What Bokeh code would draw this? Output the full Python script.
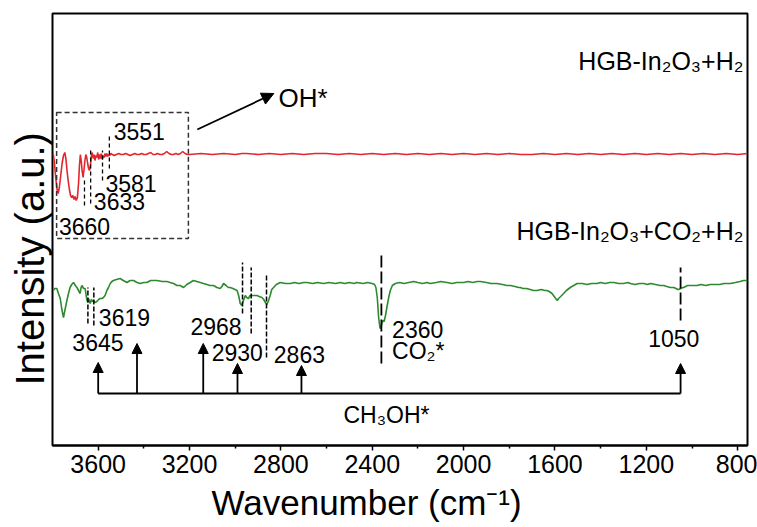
from bokeh.plotting import figure
from bokeh.models import Range1d, FixedTicker, ColumnDataSource, Arrow, NormalHead, Title
from bokeh.core.properties import value
from bokeh.embed import file_html
from bokeh.resources import INLINE

FONT = "Liberation Sans"

# ---------------- data ----------------
red_wn = [3797, 3792, 3786, 3780, 3775, 3770, 3764, 3758, 3752, 3746, 3741, 3736, 3731, 3726,
          3721, 3716, 3711, 3706, 3701, 3696, 3691, 3686, 3682, 3678, 3674, 3670, 3666, 3662,
          3658, 3654, 3650, 3646, 3642, 3638, 3634, 3630, 3626, 3622, 3618, 3614, 3610, 3606,
          3602, 3598, 3594, 3590, 3586, 3582, 3578, 3574, 3570, 3566, 3562, 3558, 3554, 3550,
          3545, 3538, 3530, 3520, 3510, 3500, 3490, 3480, 3470, 3460, 3450, 3440, 3430, 3420,
          3410, 3400, 3390, 3380, 3370, 3360, 3350, 3340, 3330, 3320, 3310, 3300, 3290, 3280,
          3270, 3260, 3250, 3240, 3230, 3220, 3210, 3200, 3150, 3100, 3050, 3000, 2970, 2950,
          2900, 2850, 2800, 2750, 2700, 2650, 2600, 2550, 2500, 2450, 2400, 2350, 2300, 2250,
          2200, 2150, 2100, 2050, 2000, 1950, 1900, 1850, 1800, 1750, 1700, 1650, 1600, 1550,
          1500, 1450, 1400, 1350, 1300, 1250, 1200, 1150, 1100, 1050, 1000, 950, 900, 850,
          800, 757]
red_int = [292, 284, 268, 256, 252, 258, 270, 282, 290, 293, 286, 274, 264, 256,
           250, 248, 250, 246, 249, 245, 248, 262, 280, 291, 284, 274, 268, 276,
           285, 291, 288, 282, 277, 275, 280, 289, 293, 287, 291, 285, 290, 288,
           293, 286, 291, 287, 292, 286, 290, 288, 292, 289, 292, 289, 291, 290,
           292, 291, 290, 291, 292, 291, 291, 292, 291, 290, 291, 292, 291, 291,
           292, 291, 291, 292, 293, 291, 291, 292, 291, 291, 292, 294, 292, 291,
           291, 292, 291, 292, 294, 292, 291, 291, 292, 291, 292, 291, 292, 292,
           291, 292, 291, 292, 291, 292, 292, 291, 292, 291, 292, 291, 292, 291,
           292, 291, 292, 291, 292, 291, 292, 291, 292, 291, 291, 292, 291, 292,
           291, 292, 291, 292, 291, 292, 291, 292, 291, 292, 291, 292, 291, 292,
           291, 292]

green_wn = [3797, 3790, 3781, 3774, 3766, 3759, 3752, 3745, 3737, 3730, 3723, 3716, 3708, 3700,
            3693, 3686, 3679, 3675, 3671, 3664, 3657, 3650, 3645, 3642, 3638, 3635, 3630, 3625,
            3621, 3614, 3606, 3598, 3591, 3584, 3577, 3570, 3562, 3555, 3547, 3540, 3533, 3520,
            3504, 3490, 3474, 3460, 3445, 3430, 3416, 3400, 3387, 3370, 3343, 3320, 3299, 3285,
            3270, 3255, 3241, 3226, 3212, 3197, 3183, 3168, 3153, 3139, 3124, 3110, 3095, 3080,
            3066, 3058, 3051, 3040, 3030, 3022, 3010, 2992, 2985, 2978, 2971, 2964, 2956, 2950,
            2942, 2935, 2927, 2915, 2905, 2895, 2883, 2875, 2868, 2861, 2854, 2847, 2840, 2832,
            2820, 2803, 2780, 2759, 2740, 2720, 2700, 2686, 2660, 2640, 2613, 2590, 2560, 2540,
            2520, 2500, 2480, 2467, 2440, 2420, 2400, 2390, 2384, 2378, 2372, 2366, 2362, 2358,
            2354, 2348, 2342, 2336, 2328, 2321, 2312, 2299, 2280, 2260, 2240, 2219, 2200, 2180,
            2160, 2146, 2120, 2100, 2073, 2050, 2030, 2000, 1980, 1960, 1940, 1927, 1900, 1880,
            1854, 1830, 1810, 1795, 1775, 1760, 1752, 1740, 1725, 1708, 1695, 1679, 1660, 1645,
            1635, 1625, 1613, 1600, 1590, 1584, 1575, 1562, 1550, 1533, 1518, 1503, 1480, 1460,
            1440, 1416, 1400, 1380, 1360, 1343, 1320, 1300, 1280, 1270, 1250, 1230, 1210, 1197,
            1180, 1160, 1140, 1124, 1110, 1095, 1080, 1070, 1062, 1058, 1050, 1040, 1036, 1020,
            1000, 978, 960, 940, 920, 905, 880, 860, 832, 810, 790, 774, 757]
green_int = [155, 157, 157, 152, 147, 136, 128, 136, 145, 152, 158, 161, 163, 160,
             158, 155, 152, 158, 160, 157, 157, 146, 143, 147, 144, 142, 146, 144,
             145, 143, 144, 146, 147, 147, 148, 150, 155, 158, 162, 164, 165, 166,
             167, 165, 163, 165, 165, 163, 162, 163, 163, 165, 165, 164, 164, 163,
             162, 160, 160, 158, 161, 163, 165, 164, 163, 162, 161, 160, 160, 158,
             157, 159, 162, 160, 158, 158, 157, 155, 150, 142, 140, 145, 150, 148,
             147, 150, 150, 150, 150, 149, 148, 146, 143, 141, 145, 150, 156, 158,
             161, 163, 162, 162, 163, 162, 163, 163, 162, 163, 162, 163, 162, 163,
             162, 163, 162, 163, 162, 163, 162, 161, 158, 148, 128, 117, 118, 122,
             125, 124, 130, 138, 148, 155, 160, 162, 163, 162, 163, 164, 163, 162,
             163, 162, 163, 164, 163, 162, 163, 163, 164, 163, 164, 164, 163, 162,
             162, 161, 160, 160, 159, 158, 158, 157, 157, 156, 155, 155, 156, 155,
             155, 154, 152, 148, 145, 147, 149, 152, 155, 158, 160, 162, 162, 161,
             162, 162, 163, 162, 163, 163, 162, 162, 163, 162, 161, 162, 162, 161,
             162, 161, 160, 160, 159, 158, 158, 157, 156, 156, 157, 158, 158, 160,
             160, 160, 161, 160, 161, 161, 161, 162, 162, 163, 164, 165, 165]

x_ticks = [3600, 3200, 2800, 2400, 2000, 1600, 1200, 800]
x_minor = [3400, 3000, 2600, 2200, 1800, 1400, 1000]

red_peaks = [3660, 3633, 3581, 3551]
green_peaks = [3645, 3619, 2968, 2930, 2863, 2360, 1050]
ch3oh_peaks = [3600, 3430, 3140, 2990, 2710, 1050]

label_top = "HGB-In\u2082O\u2083+H\u2082"
label_bottom = "HGB-In\u2082O\u2083+CO\u2082+H\u2082"
x_title = "Wavenumber (cm\u207b\u00b9)"
y_title = "Intensity (a.u.)"

# ---------------- layout (annotation placement) ----------------
red_mark_y0 = [240, 242, 265, 277]
red_mark_y1 = [265, 298, 295, 310]
red_lbl_x = [3772, 3619, 3568, 3532]
red_lbl_y = [219, 244, 262, 314]

green_mark_y0 = [122, 120, 132, 112, 88, 82, 125]
green_mark_y1 = [158, 158, 183, 178, 172, 190, 178]

ch3oh_tip = [83, 102, 102, 82, 80, 82]
ch3oh_base = 52

p = figure(width=757, height=527, x_range=Range1d(3800, 757), y_range=Range1d(0, 432),
           output_backend="svg", toolbar_location=None, y_axis_location=None,
           min_border_left=52, min_border_right=10, min_border_top=13, min_border_bottom=82)
p.background_fill_color = "white"
p.border_fill_color = "white"
p.outline_line_color = "black"
p.outline_line_width = 2
p.outline_line_alpha = 1
p.xgrid.visible = False
p.ygrid.visible = False

ax = p.xaxis[0]
ax.ticker = FixedTicker(ticks=x_ticks, minor_ticks=x_minor)
ax.axis_line_width = 2
ax.axis_line_color = "black"
ax.major_tick_out = 5
ax.major_tick_in = 0
ax.minor_tick_out = 3
ax.minor_tick_in = 0
ax.major_tick_line_width = 1.5
ax.minor_tick_line_width = 1.5
ax.major_tick_line_color = "black"
ax.minor_tick_line_color = "black"
ax.major_label_text_font = FONT
ax.major_label_text_font_size = "25px"
ax.major_label_text_color = "black"
ax.major_label_standoff = 4

# spectra
p.line(red_wn, red_int, line_color="#e3262d", line_width=1.6)
p.line(green_wn, green_int, line_color="#2e8a2e", line_width=1.6)

# dashed box around OH region
p.quad(left=[3782], right=[3205], top=[333], bottom=[207], fill_color=None,
       line_color="#333333", line_width=1.5, line_dash="5 3")

# OH arrow
p.add_layout(Arrow(end=NormalHead(size=12, fill_color="black", line_color="black"),
                   x_start=3166, y_start=316, x_end=2831, y_end=352,
                   line_width=1.8, line_color="black"))

def txt(xs, ys, texts, size, align="left", baseline="middle"):
    p.text(x=xs, y=ys, text=texts, text_font=value(FONT), text_font_size=size,
           text_align=align, text_baseline=baseline, text_color="black")

txt([2810], [348], ["OH*"], "26px")

# red markers
p.segment(x0=red_peaks, y0=red_mark_y0, x1=red_peaks, y1=red_mark_y1,
          line_color="black", line_width=1.3, line_dash="4 3")
txt(red_lbl_x, red_lbl_y, [str(v) for v in red_peaks], "23px")

# green markers
p.segment(x0=green_peaks[:5], y0=green_mark_y0[:5], x1=green_peaks[:5], y1=green_mark_y1[:5],
          line_color="black", line_width=1.5, line_dash="5 2")
p.segment(x0=green_peaks[5:], y0=green_mark_y0[5:], x1=green_peaks[5:], y1=green_mark_y1[5:],
          line_color="black", line_width=1.8, line_dash="12 4")

txt([3601], [103], ["3645"], "23px", align="center")
txt([3597], [128], ["3619"], "23px")
txt([2972], [119], ["2968"], "23px", align="right")
txt([2991], [93], ["2930"], "23px", align="center")
txt([2831], [91], ["2863"], "23px")
txt([2313], [116], ["2360"], "23px")
txt([2313], [95], ["CO\u2082*"], "23px")
txt([1080], [107], ["1050"], "23px", align="center")

# CH3OH* bracket
p.segment(x0=[ch3oh_peaks[0]], y0=[ch3oh_base], x1=[ch3oh_peaks[-1]], y1=[ch3oh_base],
          line_color="black", line_width=2)
arr_src = ColumnDataSource(dict(x0=ch3oh_peaks, y0=[ch3oh_base] * len(ch3oh_peaks),
                                x1=ch3oh_peaks, y1=ch3oh_tip))
p.add_layout(Arrow(end=NormalHead(size=10, fill_color="black", line_color="black"),
                   source=arr_src, x_start="x0", y_start="y0", x_end="x1", y_end="y1",
                   line_width=1.8, line_color="black"))
txt([2526], [31], ["CH\u2083OH*"], "23px")

# sample labels
txt([775], [385], [label_top], "25px", align="right", baseline="alphabetic")
txt([775], [215], [label_bottom], "25px", align="right", baseline="alphabetic")

# axis titles
p.add_layout(Title(text=y_title, align="left", offset=60, standoff=2,
                   text_font=FONT, text_font_size="40px", text_font_style="normal",
                   text_color="black"), "left")
p.add_layout(Title(text=x_title, align="left", offset=159, standoff=10,
                   text_font=FONT, text_font_size="35px", text_font_style="normal",
                   text_color="black"), "below")

open("out.html", "w").write(file_html(p, INLINE))
